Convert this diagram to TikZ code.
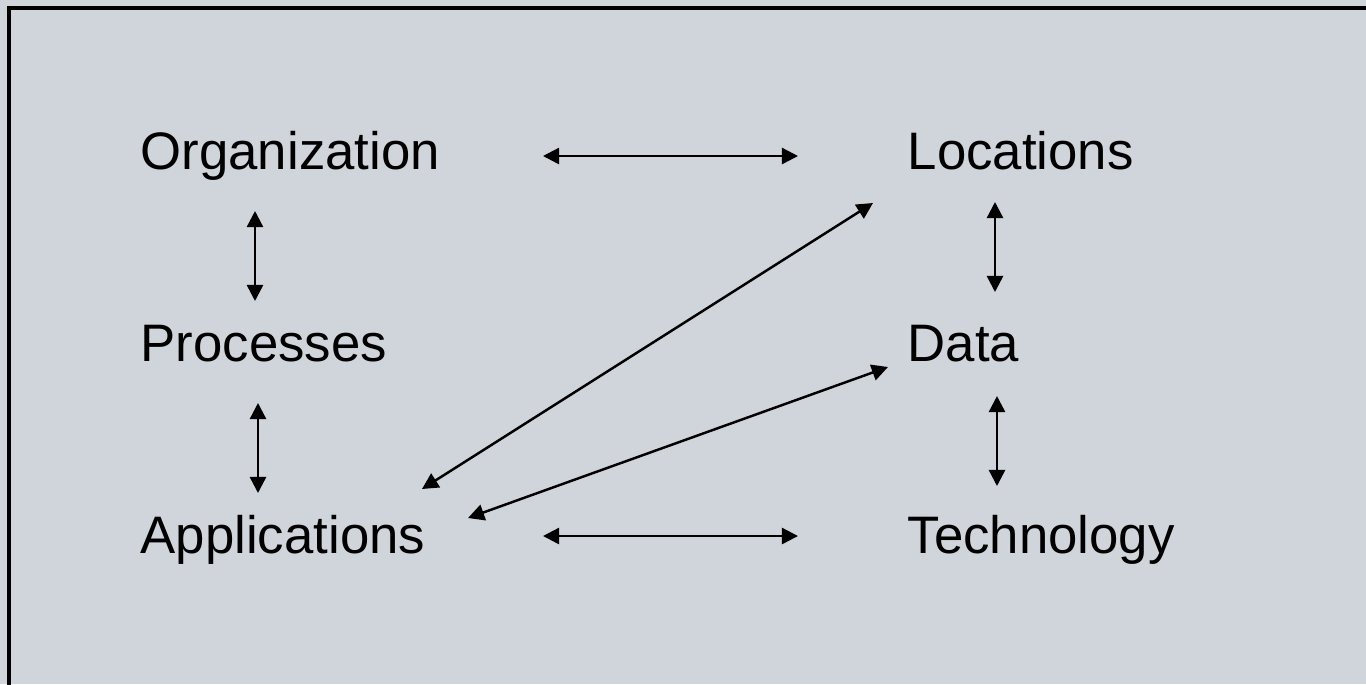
\documentclass[tikz,border=0pt]{standalone}
\usepackage{fontspec}
\setmainfont{Liberation Sans}
\usetikzlibrary{arrows.meta}
\definecolor{bgc}{HTML}{D0D4DB}
\begin{document}
\begin{tikzpicture}[x=0.01cm,y=-0.01cm,
  lbl/.style={anchor=base west,inner sep=0pt,font=\fontsize{15pt}{17pt}\selectfont},
  arr/.style={line width=0.7pt,{Triangle[length=4.6pt,width=4.6pt]}-{Triangle[length=4.6pt,width=4.6pt]}}]
\useasboundingbox (0,0) rectangle (1366,684);
\clip (0,0) rectangle (1366,684);
\fill[bgc] (0,0) rectangle (1366,684);
\draw[line width=1pt] (9,8) rectangle (1400,720);
\node[lbl] (org) at (140,169) {Organization};
\node[lbl] (pro) at (140,361) {Processes};
\node[lbl] (app) at (140,553) {Applications};
\node[lbl] (loc) at (907,169) {Locations};
\node[lbl] (dat) at (907,361) {Data};
\node[lbl] (tec) at (907,553) {Technology};
\coordinate (h1a) at (543,156); \coordinate (h1b) at (798,156);
\coordinate (h2a) at (543,536); \coordinate (h2b) at (798,536);
\coordinate (v1a) at (255,211); \coordinate (v1b) at (255,301);
\coordinate (v2a) at (258,403); \coordinate (v2b) at (258,493);
\coordinate (v3a) at (995,202); \coordinate (v3b) at (995,292);
\coordinate (v4a) at (997,396); \coordinate (v4b) at (997,486);
\coordinate (d1a) at (422,489); \coordinate (d1b) at (873,203);
\coordinate (d2a) at (468,518); \coordinate (d2b) at (888,367);
\draw[arr] (h1a) -- (h1b);
\draw[arr] (h2a) -- (h2b);
\draw[arr] (v1a) -- (v1b);
\draw[arr] (v2a) -- (v2b);
\draw[arr] (v3a) -- (v3b);
\draw[arr] (v4a) -- (v4b);
\draw[arr] (d1a) -- (d1b);
\draw[arr] (d2a) -- (d2b);
\end{tikzpicture}
\end{document}
